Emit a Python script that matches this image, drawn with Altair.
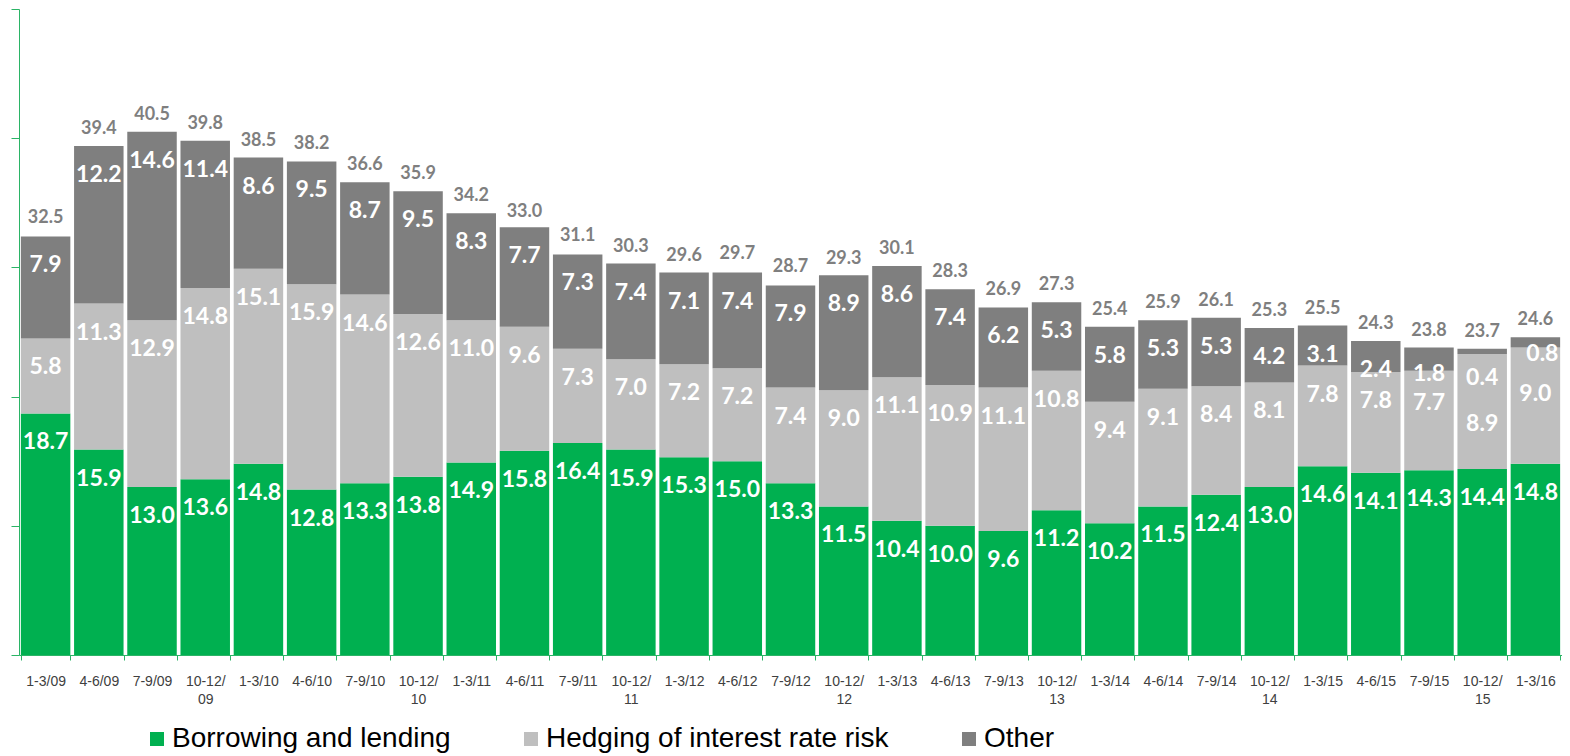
import altair as alt
import pandas as pd

periods = ["1-3/09", "4-6/09", "7-9/09", "10-12/09", "1-3/10", "4-6/10", "7-9/10", "10-12/10",
           "1-3/11", "4-6/11", "7-9/11", "10-12/11", "1-3/12", "4-6/12", "7-9/12", "10-12/12",
           "1-3/13", "4-6/13", "7-9/13", "10-12/13", "1-3/14", "4-6/14", "7-9/14", "10-12/14",
           "1-3/15", "4-6/15", "7-9/15", "10-12/15", "1-3/16"]
borrowing = [18.7, 15.9, 13.0, 13.6, 14.8, 12.8, 13.3, 13.8, 14.9, 15.8, 16.4, 15.9, 15.3, 15.0, 13.3,
             11.5, 10.4, 10.0, 9.6, 11.2, 10.2, 11.5, 12.4, 13.0, 14.6, 14.1, 14.3, 14.4, 14.8]
hedging = [5.8, 11.3, 12.9, 14.8, 15.1, 15.9, 14.6, 12.6, 11.0, 9.6, 7.3, 7.0, 7.2, 7.2, 7.4,
           9.0, 11.1, 10.9, 11.1, 10.8, 9.4, 9.1, 8.4, 8.1, 7.8, 7.8, 7.7, 8.9, 9.0]
other = [7.9, 12.2, 14.6, 11.4, 8.6, 9.5, 8.7, 9.5, 8.3, 7.7, 7.3, 7.4, 7.1, 7.4, 7.9,
         8.9, 8.6, 7.4, 6.2, 5.3, 5.8, 5.3, 5.3, 4.2, 3.1, 2.4, 1.8, 0.4, 0.8]
totals = [32.5, 39.4, 40.5, 39.8, 38.5, 38.2, 36.6, 35.9, 34.2, 33.0, 31.1, 30.3, 29.6, 29.7, 28.7,
          29.3, 30.1, 28.3, 26.9, 27.3, 25.4, 25.9, 26.1, 25.3, 25.5, 24.3, 23.8, 23.7, 24.6]

series_names = ["Borrowing and lending", "Hedging of interest rate risk", "Other"]
series_colors = ["#00B050", "#BFBFBF", "#7F7F7F"]

# label placement exceptions (pixel nudges, style only)
label_nudges = {
    ("7-9/15", "Other"): (0, 33),
    ("7-9/15", "Hedging of interest rate risk"): (0, 39),
    ("10-12/15", "Hedging of interest rate risk"): (0, 77),
    ("1-3/16", "Hedging of interest rate risk"): (0, 53),
    ("1-3/16", "Other"): (7, 24),
}

rows = []
for i, p in enumerate(periods):
    base = 0.0
    for k, (name, vals) in enumerate(zip(series_names, [borrowing, hedging, other])):
        v = vals[i]
        rows.append(dict(period=p, series=name, order=k, value=v, y0=base, y1=base + v,
                         label=f"{v:.1f}", nudge=1 if (p, name) in label_nudges else 0))
        base += v
seg = pd.DataFrame(rows)
tot = pd.DataFrame(dict(period=periods, total=totals, label=[f"{t:.1f}" for t in totals]))

AXIS_GREEN = "#2BB466"

x_enc = alt.X("period:N", sort=periods,
              scale=alt.Scale(paddingInner=0.07, paddingOuter=0.035),
              axis=alt.Axis(title=None, labelAngle=0, tickBand="extent", tickSize=5,
                            domainColor=AXIS_GREEN, tickColor=AXIS_GREEN, labelPadding=14,
                            labelFont="Liberation Sans", labelFontSize=14, labelColor="#404040",
                            labelLineHeight=18, labelLimit=200,
                            labelExpr="indexof(datum.label, '10-12/') == 0 ? ['10-12/', substring(datum.label, 6)] : datum.label"))

bars = alt.Chart(seg).mark_bar().encode(
    x=x_enc,
    y=alt.Y("y1:Q", scale=alt.Scale(domain=[0, 50], nice=False),
            axis=alt.Axis(title=None, labels=False, grid=False, values=[0, 10, 20, 30, 40, 50],
                          tickSize=8, domainColor=AXIS_GREEN, tickColor=AXIS_GREEN)),
    y2="y0:Q",
    color=alt.Color("series:N", scale=alt.Scale(domain=series_names, range=series_colors),
                    legend=alt.Legend(orient="none", legendX=124, legendY=716, direction="horizontal",
                                      title=None, symbolType="square", symbolSize=196,
                                      symbolStrokeWidth=0, labelFont="Liberation Sans",
                                      labelFontSize=28, labelColor="black", labelLimit=600,
                                      labelOffset=1, columnPadding=66)),
    order="order:Q",
)

def seg_text(data, dx, dy):
    return alt.Chart(data).mark_text(
        font="Lato", fontWeight="bold", fontSize=23, color="white",
        baseline="alphabetic", align="center", dx=dx, dy=dy
    ).encode(x=alt.X("period:N", sort=periods), y=alt.Y("y1:Q"), text="label:N")

layers = [bars, seg_text(seg[seg.nudge == 0], 0, 36)]
for (p, name), (dx, dy) in label_nudges.items():
    sub = seg[(seg.period == p) & (seg.series == name)]
    layers.append(seg_text(sub, dx, dy))

tot_text = alt.Chart(tot).mark_text(
    font="Lato", fontWeight="bold", fontSize=18, color="#7F7F7F",
    baseline="alphabetic", align="center", dy=-12
).encode(x=alt.X("period:N", sort=periods), y=alt.Y("total:Q"), text="label:N")
layers.append(tot_text)

chart = alt.layer(*layers).properties(
    width=1543, height=646,
    padding={"left": 2, "right": 0, "top": 0, "bottom": 0},
    background="white",
).configure_view(stroke=None)

chart.save("out.html", embed_options={"renderer": "svg", "actions": False})
